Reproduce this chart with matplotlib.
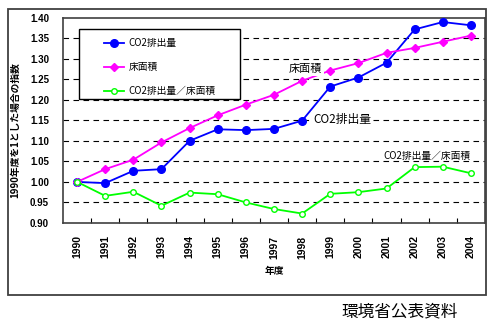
import matplotlib
matplotlib.use("Agg")
import matplotlib.pyplot as plt
from matplotlib.patches import Rectangle

plt.rcParams['font.family'] = ['Noto Sans CJK JP', 'DejaVu Sans']

years = ['1990', '1991', '1992', '1993', '1994', '1995', '1996', '1997',
         '1998', '1999', '2000', '2001', '2002', '2003', '2004']
co2 = [1.000, 0.997, 1.027, 1.031, 1.100, 1.128, 1.126, 1.129,
       1.149, 1.232, 1.254, 1.290, 1.371, 1.389, 1.381]
floor = [1.000, 1.031, 1.054, 1.096, 1.131, 1.162, 1.188, 1.212,
         1.246, 1.271, 1.289, 1.314, 1.326, 1.341, 1.356]
ratio = [1.000, 0.966, 0.976, 0.942, 0.974, 0.970, 0.950, 0.934,
         0.923, 0.971, 0.975, 0.984, 1.036, 1.037, 1.021]
yticks = [0.90, 0.95, 1.00, 1.05, 1.10, 1.15, 1.20, 1.25, 1.30, 1.35, 1.40]

W, H = 495, 331
fig = plt.figure(figsize=(W / 100, H / 100), dpi=100)

# outer frame
fig.patches.append(Rectangle((8 / W, 1 - 295 / H), 478 / W, 286 / H,
                             transform=fig.transFigure, fill=False,
                             edgecolor='#404040', linewidth=1.3))

ax = fig.add_axes([63 / W, 1 - 223 / H, 422 / W, 205.5 / H])
x = list(range(len(years)))

for v in yticks[1:-1]:
    ax.axhline(v, color='black', linewidth=0.8, linestyle=(0, (5, 4)), zorder=1)

ax.plot(x, co2, color='#0000FF', linewidth=1.3, marker='o', markersize=5.5,
        markerfacecolor='#0000FF', markeredgecolor='#0000FF', zorder=3,
        label='CO2排出量')
ax.plot(x, floor, color='#FF00FF', linewidth=1.3, marker='D', markersize=4.5,
        markerfacecolor='#FF00FF', markeredgecolor='#FF00FF', zorder=3,
        label='床面積')
ax.plot(x, ratio, color='#00FF00', linewidth=1.3, marker='o', markersize=4,
        markerfacecolor='white', markeredgecolor='#00FF00', markeredgewidth=1.0,
        zorder=4, label='CO2排出量／床面積')

ax.set_xlim(-0.5, len(years) - 0.5)
ax.set_ylim(0.90, 1.40)
ax.set_yticks(yticks)
ax.set_yticklabels([f'{v:.2f}' for v in yticks], fontsize=7, fontweight='bold',
                   family=['Liberation Sans', 'DejaVu Sans'])
ax.tick_params(axis='y', length=0, pad=10)

ax.set_xticks([i + 0.5 for i in range(len(years) - 1)])
ax.set_xticklabels([])
ax.tick_params(axis='x', which='major', direction='in', length=3.5, width=0.8)
ax.set_xticks(x, minor=True)
ax.set_xticklabels(years, minor=True, rotation=90, fontsize=7.5, fontweight='bold',
                   family=['Liberation Sans', 'DejaVu Sans'])
ax.tick_params(axis='x', which='minor', length=0, pad=9)

for s in ax.spines.values():
    s.set_color('#404040')
    s.set_linewidth(1.2)

ax.set_xlabel('年度', fontsize=7, fontweight='bold', labelpad=5)
fig.text(15 / W, 1 - 130 / H, '1990年度を1とした場合の指数', rotation=90,
         ha='center', va='center', fontsize=7, fontweight='bold')

# legend box
lx0, ly0 = 79, 29
lx1, ly1 = 240, 99
ax.add_patch(Rectangle(((lx0 - 63) / 422, 1 - (ly1 - 17.5) / 205.5),
                       (lx1 - lx0) / 422, (ly1 - ly0) / 205.5,
                       transform=ax.transAxes, facecolor='white',
                       edgecolor='black', linewidth=1.0, zorder=5))
leg = ax.legend(loc='upper left',
                bbox_to_anchor=((104 - 63) / 422, 1 - (38 - 17.5) / 205.5),
                frameon=False, fontsize=7, borderpad=0, borderaxespad=0,
                labelspacing=1.45, handlelength=2.1, handletextpad=0.4)
leg.set_zorder(6)

bb = dict(facecolor='white', edgecolor='none', pad=1.5)
ax.text(8.1, 1.274, '床面積', fontsize=8, ha='center', va='center', bbox=bb, zorder=6)
ax.text(9.42, 1.151, 'CO2排出量', fontsize=8.5, ha='center', va='center', bbox=bb, zorder=6)
ax.text(12.42, 1.063, 'CO2排出量／床面積', fontsize=7, ha='center', va='center',
        zorder=6)

fig.text(400 / W, 1 - 312 / H, '環境省公表資料', fontsize=12, ha='center', va='center')

fig.savefig('out.png', dpi=100)
